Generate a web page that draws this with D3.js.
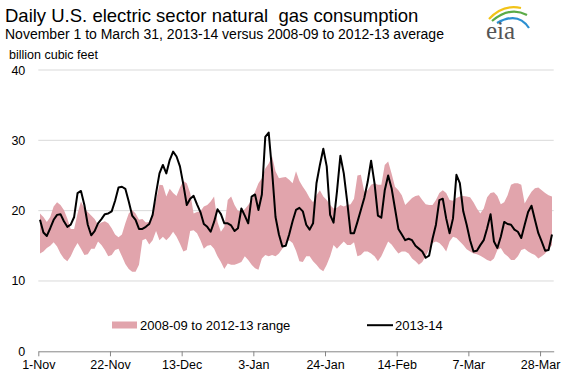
<!DOCTYPE html>
<html><head><meta charset="utf-8">
<script src="https://cdn.jsdelivr.net/npm/d3@7"></script>
<style>
html,body{margin:0;padding:0;background:#fff;}
text{font-family:Arial,"Liberation Sans",sans-serif;}
</style></head>
<body>
<svg id="c" width="564" height="375"></svg>
<script>
// ---- data (billion cubic feet per day), Nov 1 2013 .. Mar 31 2014 (151 days) ----
const title = "Daily U.S. electric sector natural\u00a0 gas consumption";
const subtitle = "November 1 to March 31, 2013-14 versus 2008-09 to 2012-13 average";
const unitLabel = "billion cubic feet";
const seriesNames = ["2008-09 to 2012-13 range", "2013-14"];
const tickLabels = ["1-Nov","22-Nov","13-Dec","3-Jan","24-Jan","14-Feb","7-Mar","28-Mar"];
const tickDays = [0,21,42,63,84,105,126,147];
const yTicks = [0,10,20,30,40];

const line2013 = [
 18.7,16.9,16.4,17.5,18.7,19.4,19.5,18.5,17.7,18.0,19.1,22.5,22.8,20.8,18.0,16.5,17.1,18.2,18.8,19.5,19.6,19.9,21.4,23.3,23.4,23.1,21.3,19.3,
 18.7,17.4,17.4,17.7,18.1,19.4,22.5,25.3,26.5,25.3,27.2,28.4,27.7,26.3,23.7,20.8,21.7,22.1,20.9,19.8,18.1,17.7,17.0,18.4,20.2,19.5,18.2,18.2,17.9,17.1,17.5,
 20.3,19.3,18.2,22.0,22.3,20.1,22.3,30.5,31.1,25.6,19.1,16.6,14.9,15.0,16.6,18.5,20.1,20.4,19.9,18.0,17.3,18.2,23.9,26.5,28.8,26.3,19.4,18.3,22.7,27.8,
 25.3,21.3,16.8,16.8,18.4,20.1,21.8,24.1,27.1,23.9,19.3,19.0,22.9,25.0,23.2,20.3,17.4,16.6,15.8,16.0,15.8,15.0,14.6,14.2,13.3,13.6,16.0,18.0,21.5,21.7,
 18.9,16.8,18.9,25.1,23.9,19.9,18.0,15.8,14.2,14.3,15.1,15.8,17.5,19.5,15.6,14.7,16.3,18.4,18.1,18.0,17.3,17.0,16.1,18.0,19.8,20.7,18.7,16.8,15.6,14.3,14.4,16.6
];
const rangeHigh = [
 19.6,19.1,18.4,19.1,20.6,21.2,20.8,20.1,18.9,17.4,17.4,19.6,21.3,20.3,19.8,19.3,18.8,18.0,18.3,18.5,18.2,17.5,16.6,16.2,16.6,18.2,19.6,20.1,
 19.6,18.7,18.8,18.3,18.4,19.8,21.5,23.7,23.6,22.0,23.1,22.5,22.1,23.3,24.2,23.9,22.5,19.6,19.8,19.9,20.6,20.8,21.3,22.0,18.4,17.0,17.7,21.5,22.0,20.8,20.0,
 19.9,20.2,20.8,21.5,22.7,23.9,24.6,26.0,26.7,27.7,25.6,24.6,24.7,24.8,24.4,23.9,25.6,24.2,23.4,22.7,21.8,21.2,22.2,22.9,22.0,21.5,20.8,20.3,20.4,20.8,
 20.6,20.8,20.9,21.7,25.0,25.1,22.7,22.9,23.7,23.9,23.7,23.7,26.5,27.0,25.3,23.4,22.9,22.2,20.8,21.3,21.8,22.1,22.2,21.5,20.9,20.8,20.8,21.5,22.5,22.9,
 22.5,21.5,21.4,21.8,22.0,22.1,22.0,21.9,21.2,20.3,19.6,20.3,21.9,22.5,22.6,22.1,20.9,21.2,22.2,23.7,23.9,23.9,23.7,21.0,21.9,22.7,23.2,23.3,22.9,22.5,22.2,22.0
];
const rangeLow = [
 13.9,14.2,14.7,15.0,15.5,14.9,13.9,13.2,12.8,13.5,14.6,15.4,14.6,13.7,13.8,14.6,14.6,15.6,15.1,14.4,13.5,13.7,14.4,14.6,13.5,12.4,11.7,11.3,
 11.3,12.3,15.8,16.0,15.2,15.8,17.1,15.8,16.3,15.8,16.3,17.0,16.3,15.3,14.2,14.4,17.1,17.2,16.8,15.8,14.6,15.0,15.1,14.6,13.5,12.7,11.7,12.5,12.3,12.3,12.5,
 12.7,13.5,13.0,12.3,11.8,11.6,13.2,13.7,13.5,13.7,13.5,13.9,14.6,15.4,15.8,15.4,14.3,12.8,12.7,13.5,13.5,12.8,12.3,11.7,11.4,12.3,13.5,15.1,14.6,15.1,
 15.6,15.1,15.1,15.5,13.5,13.7,14.2,14.2,13.9,13.5,12.8,13.5,14.6,15.6,15.2,14.5,13.9,14.2,14.2,13.9,13.2,12.8,12.3,12.7,13.5,14.5,15.4,15.6,15.4,14.9,
 14.2,15.6,16.3,16.1,15.6,15.1,14.5,14.2,13.9,13.8,13.6,13.3,13.0,12.8,13.2,14.4,14.7,13.9,13.5,13.0,13.0,13.5,14.4,14.6,14.2,13.9,13.7,13.2,13.5,13.9,14.5,15.1
];

// ---- drawing ----
const svg = d3.select("#c");
svg.append("rect").attr("width",564).attr("height",375).attr("fill","#fff");

const nDays = line2013.length;
const x = d3.scaleLinear().domain([0, nDays]).range([38.3, 553.7]);
const y = d3.scaleLinear().domain([0, 40]).range([351.3, 70]);
const pink = "#e1a4ac";

// gridlines
svg.append("g").selectAll("line").data(yTicks.filter(v=>v>0)).join("line")
  .attr("x1", x(0)).attr("x2", x(nDays))
  .attr("y1", d=>y(d)).attr("y2", d=>y(d))
  .attr("stroke","#d9d9d9").attr("stroke-width",1);

// y axis labels
const yAxis = d3.axisLeft(y).tickValues(yTicks).tickSize(0).tickPadding(13);
const yg = svg.append("g").attr("transform",`translate(${x(0)},0)`).call(yAxis);
yg.select(".domain").remove();
yg.selectAll("text").attr("font-size","12.5px").attr("fill","#000")
  .style("font-family","Arial, 'Liberation Sans', sans-serif");

// band
const idx = d3.range(nDays);
const area = d3.area()
  .x(i=>x(i+0.5)).y0(i=>y(rangeLow[i])).y1(i=>y(rangeHigh[i]));
svg.append("path").datum(idx).attr("d",area).attr("fill",pink);

// line
const line = d3.line().x(i=>x(i+0.5)).y(i=>y(line2013[i]));
svg.append("path").datum(idx).attr("d",line)
  .attr("fill","none").attr("stroke","#000").attr("stroke-width",2)
  .attr("stroke-linejoin","round");

// x axis
const xAxis = d3.axisBottom(x).tickValues(tickDays)
  .tickFormat((d,i)=>tickLabels[i]).tickSizeInner(5).tickSizeOuter(0).tickPadding(4);
const xg = svg.append("g").attr("transform",`translate(0,${y(0)})`).call(xAxis);
xg.select(".domain").attr("stroke","#868686");
xg.selectAll(".tick line").attr("stroke","#868686");
xg.selectAll("text").attr("font-size","12.5px").attr("fill","#000")
  .style("font-family","Arial, 'Liberation Sans', sans-serif");

// legend
const lg = svg.append("g");
lg.append("rect").attr("x",112).attr("y",321.5).attr("width",25).attr("height",7).attr("fill",pink);
lg.append("text").attr("x",140).attr("y",329.5).attr("font-size","13px").text(seriesNames[0]);
lg.append("line").attr("x1",367).attr("x2",393).attr("y1",325.2).attr("y2",325.2)
  .attr("stroke","#000").attr("stroke-width",2);
lg.append("text").attr("x",395).attr("y",329.5).attr("font-size","13px").text(seriesNames[1]);

// titles
svg.append("text").attr("x",5).attr("y",22.3).attr("font-size","18.5px").attr("fill","#000").text(title);
svg.append("text").attr("x",5).attr("y",39).attr("font-size","14px").attr("fill","#000").text(subtitle);
svg.append("text").attr("x",9).attr("y",59).attr("font-size","12.5px").attr("fill","#000").text(unitLabel);

// eia logo
const logo = svg.append("g");
logo.append("path").attr("d","M489,19 Q503,4 521,8").attr("fill","none").attr("stroke","#f2c318").attr("stroke-width",2.2);
logo.append("path").attr("d","M492,21 Q510,6 527,15").attr("fill","none").attr("stroke","#5bab47").attr("stroke-width",2.2);
logo.append("path").attr("d","M497,23 Q518,11 529,28").attr("fill","none").attr("stroke","#2b8fd1").attr("stroke-width",2.2);
logo.append("text").attr("x",486).attr("y",39).attr("font-size","25px")
  .style("font-family","'Liberation Serif','DejaVu Serif',serif").attr("fill","#555").text("eia");
</script>
</body></html>
